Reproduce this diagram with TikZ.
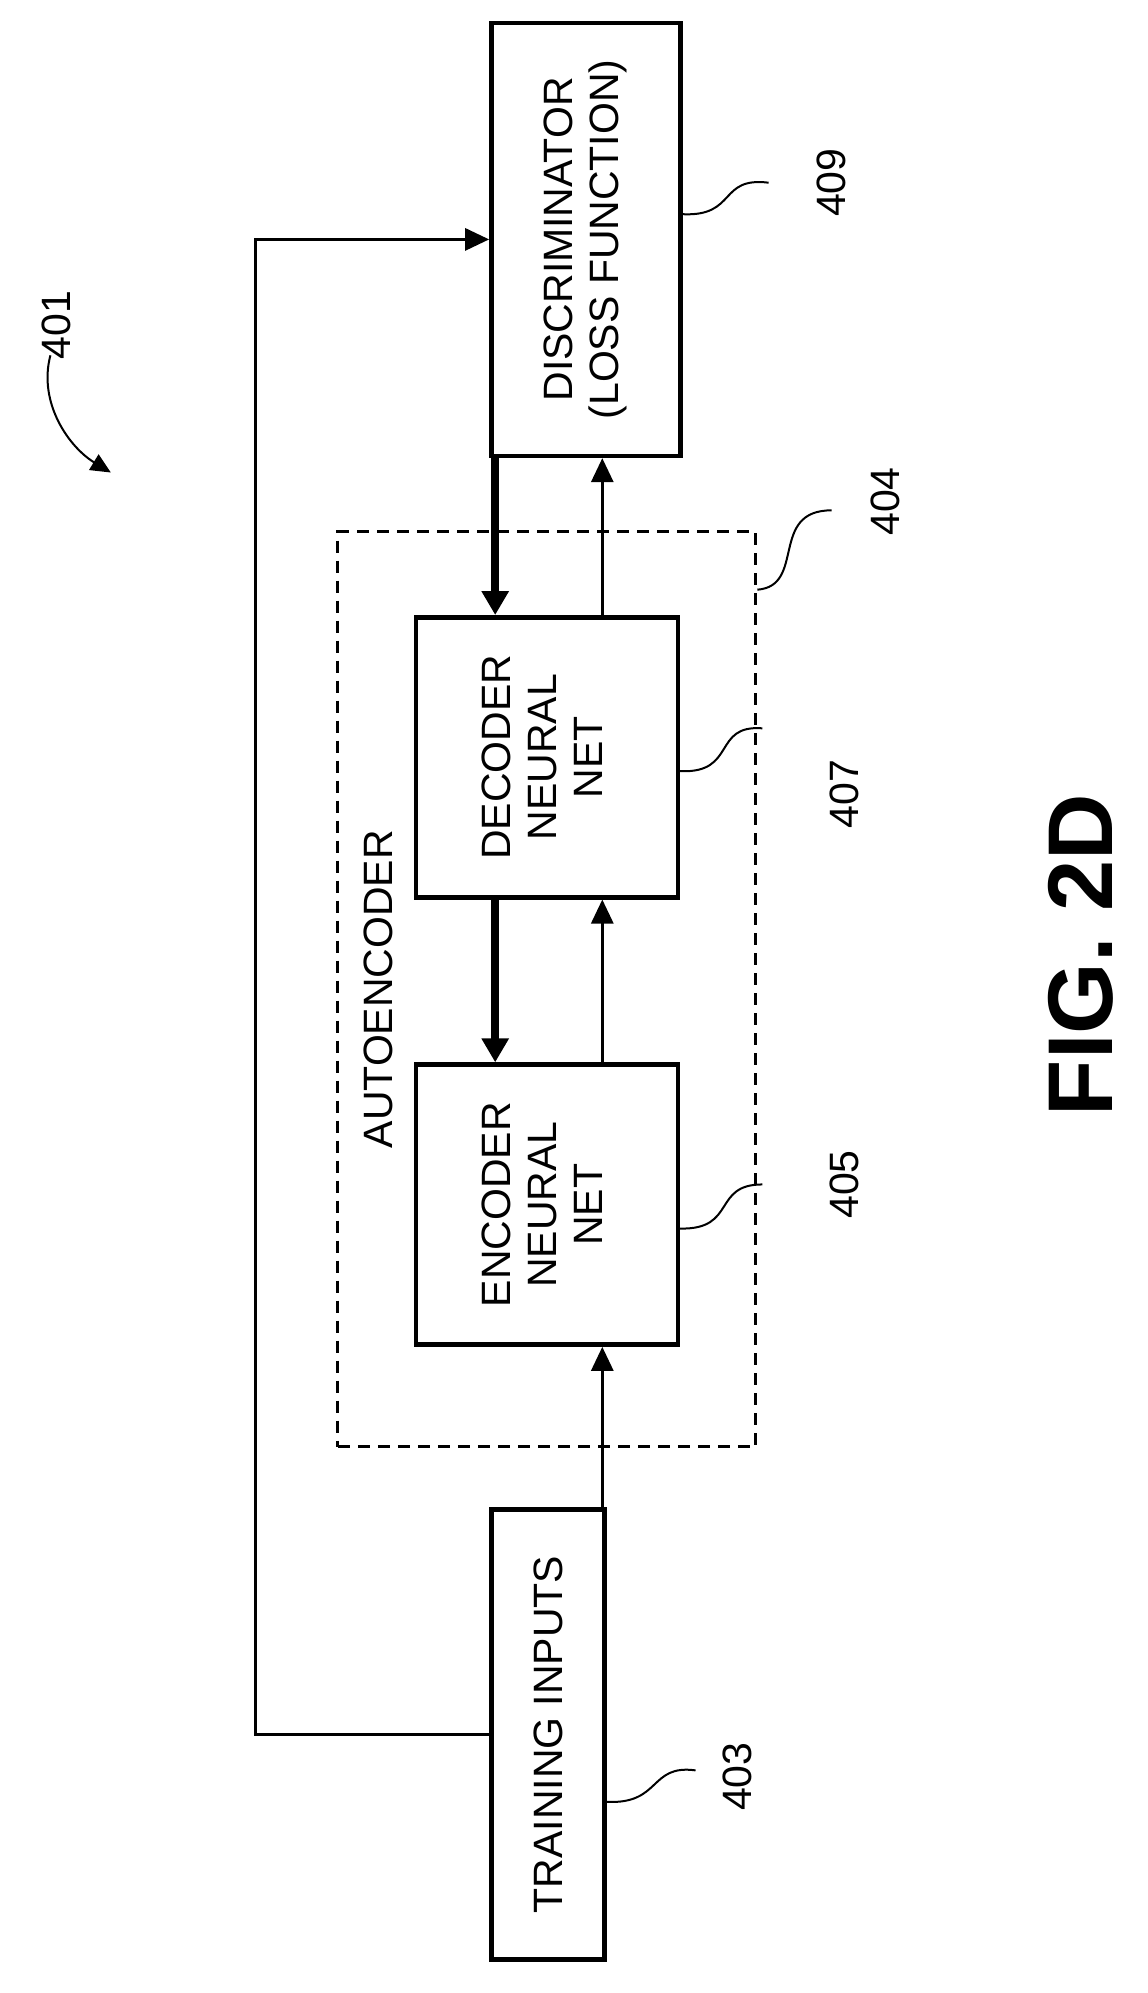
\documentclass[tikz,border=0pt]{standalone}
\usepackage{fontspec}
\setmainfont{Liberation Sans}
\usetikzlibrary{arrows.meta}
\begin{document}
\begin{tikzpicture}[x=1.26pt,y=-1.26pt,
  box/.style={draw,line width=4.5pt,inner sep=0pt,align=center,font=\fontsize{41}{46}\selectfont},
  lbl/.style={font=\fontsize{41}{46}\selectfont,rotate=90},
  thin/.style={line width=3pt,-{Triangle[length=24pt,width=22pt]}},
  thick/.style={line width=8pt,-{Triangle[length=24pt,width=26pt]}},
  lead/.style={line width=2pt}]
\useasboundingbox (0,0) rectangle (910.3,1581.7);
\node[box,minimum width=189pt,minimum height=433pt] (disc) at (465,190) {\rotatebox{90}{\begin{tabular}{c}DISCRIMINATOR\\(LOSS FUNCTION)\end{tabular}}};
\node[box,minimum width=113pt,minimum height=450pt] (train) at (435,1376.5) {\rotatebox{90}{TRAINING INPUTS}};
\node[draw,dashed,line width=3pt,dash pattern=on 12pt off 8pt,minimum width=418pt,minimum height=915pt] (auto) at (434,785) {};
\node[box,minimum width=262pt,minimum height=280pt] (dec) at (434,601) {\rotatebox{90}{\begin{tabular}{c}DECODER\\NEURAL\\NET\end{tabular}}};
\node[box,minimum width=262pt,minimum height=280pt] (enc) at (434,956) {\rotatebox{90}{\begin{tabular}{c}ENCODER\\NEURAL\\NET\end{tabular}}};
\node[lbl] (autol) at (300,785) {AUTOENCODER};
\coordinate (cL) at (393,0);
\coordinate (cR) at (478,0);
\coordinate (cX) at (203,0);
\draw[thick] (disc.south -| cL) -- (dec.north -| cL);
\draw[thick] (dec.south -| cL) -- (enc.north -| cL);
\draw[thin] (dec.north -| cR) -- (disc.south -| cR);
\draw[thin] (enc.north -| cR) -- (dec.south -| cR);
\draw[thin] (train.north -| cR) -- (enc.south -| cR);
\draw[thin] (train.west) -- (train.west -| cX) -- (disc.west -| cX) -- (disc.west);
% labels
\node[lbl] (n409) at (660,145) {409};
\node[lbl] (n404) at (703,398) {404};
\node[lbl] (n407) at (670,630) {407};
\node[lbl] (n405) at (670,940) {405};
\node[lbl] (n403) at (585,1410) {403};
\node[lbl] (n401) at (45,258) {401};
\node[font=\fontsize{92}{100}\selectfont\bfseries,rotate=90] (fig) at (858,758) {FIG. 2D};
\coordinate (e409) at (610,145);
\coordinate (e404) at (660,405);
\coordinate (e407) at (605,578);
\coordinate (e405) at (605,940);
\coordinate (e403) at (552,1405);
\draw[lead] (disc.east |- 0,170) .. controls (585,172) and (570,140) .. (e409);
\draw[lead] (auto.east |- 0,468) .. controls (640,465) and (610,405) .. (e404);
\draw[lead] (dec.east |- 0,612) .. controls (585,614) and (565,575) .. (e407);
\draw[lead] (enc.east |- 0,975) .. controls (585,976) and (565,940) .. (e405);
\draw[lead] (train.east |- 0,1430) .. controls (525,1432) and (515,1400) .. (e403);
\coordinate (a401) at (40,282);
\coordinate (b401) at (88,375);
\draw[line width=2pt,-{Triangle[length=20pt,width=18pt]}] (a401) .. controls (30,320) and (55,355) .. (b401);
\end{tikzpicture}
\end{document}
